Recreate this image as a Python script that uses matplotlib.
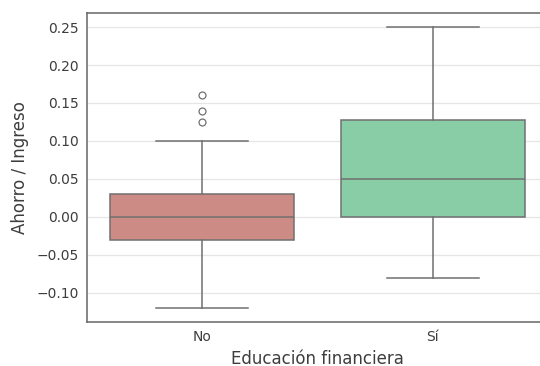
import matplotlib
matplotlib.use("Agg")
import matplotlib.pyplot as plt

# box statistics
categories = ["No", "Sí"]
whislo = [-0.12, -0.08]
q1 = [-0.03, 0.00]
med = [0.00, 0.05]
q3 = [0.03, 0.128]
whishi = [0.10, 0.25]
fliers = [[0.125, 0.14, 0.16], []]
box_colors = ["#cd8b85", "#88cda5"]

line_col = "#707070"
text_col = "#3d3d3d"

fig = plt.figure(figsize=(5.4, 3.66), dpi=100)
ax = fig.add_axes([0.161, 0.1202, 0.854, 0.8443])

stats = []
for i, name in enumerate(categories):
    stats.append(dict(label=name, whislo=whislo[i], q1=q1[i], med=med[i],
                      q3=q3[i], whishi=whishi[i], fliers=fliers[i]))

bp = ax.bxp(stats, positions=range(len(categories)), widths=0.8,
            patch_artist=True, manage_ticks=False,
            boxprops=dict(edgecolor=line_col, linewidth=1.1),
            medianprops=dict(color=line_col, linewidth=1.1),
            whiskerprops=dict(color=line_col, linewidth=1.1),
            capprops=dict(color=line_col, linewidth=1.1),
            capwidths=0.4,
            flierprops=dict(marker="o", markersize=5, markerfacecolor="none",
                            markeredgecolor=line_col, markeredgewidth=0.9))
for patch, c in zip(bp["boxes"], box_colors):
    patch.set_facecolor(c)

ax.set_xlim(-0.5, 1.5)
ax.set_ylim(-0.1385, 0.2685)
ax.set_xticks(range(len(categories)))
ax.set_xticklabels(categories)
ax.set_yticks([-0.10, -0.05, 0.00, 0.05, 0.10, 0.15, 0.20, 0.25])
ax.yaxis.grid(True, color="#e6e6e6", linewidth=0.9)
ax.set_axisbelow(True)
ax.tick_params(axis="both", labelsize=10, colors=text_col, length=0, pad=6)
for side in ["left", "top", "bottom"]:
    ax.spines[side].set_color("#666666")
    ax.spines[side].set_linewidth(1.1)
ax.spines["right"].set_visible(False)

ax.set_xlabel("Educación financiera", fontsize=12, color=text_col, labelpad=4)
ax.set_ylabel("Ahorro / Ingreso", fontsize=12, color=text_col, labelpad=5)

fig.savefig("out.png", dpi=100)
